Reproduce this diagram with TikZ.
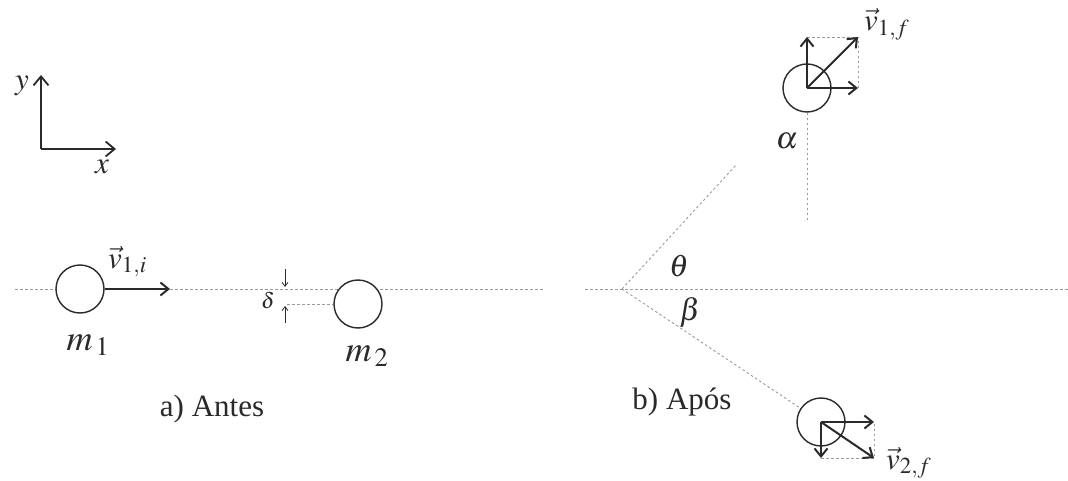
\documentclass[tikz,border=0pt]{standalone}
\usepackage{mathptmx}
\usepackage{fontspec}
\setmainfont{Liberation Serif}
\usetikzlibrary{arrows.meta,calc}
\definecolor{ink}{HTML}{2A2A2A}
\definecolor{dotc}{HTML}{9A9A9A}
\tikzset{
  ball/.style={circle, draw=ink, line width=1.4pt, minimum size=48pt, inner sep=0pt},
  vecarrow/.style={draw=ink, line width=2pt, -{Straight Barb[length=8pt,width=13pt]}},
  axisarrow/.style={draw=ink, line width=1.8pt, -{Straight Barb[length=9pt,width=15pt]}},
  guide/.style={draw=dotc, line width=0.9pt, dash pattern=on 2.5pt off 2.5pt},
  thinarrow/.style={draw=ink, line width=0.8pt, -{Straight Barb[length=4pt,width=6pt]}},
  lbl/.style={inner sep=0pt, text=ink},
  masslbl/.style={inner sep=0pt, text=ink, font=\fontsize{36}{40}\selectfont},
  captext/.style={inner sep=0pt, text=ink, font=\fontsize{31}{36}\selectfont},
}
\begin{document}
\begin{tikzpicture}[x=1pt,y=-1pt, font=\fontsize{31}{36}\selectfont]
\useasboundingbox (0,0) rectangle (1068,481);
% axes
\coordinate (O) at (41,149);
\coordinate (Ytip) at (41,75);
\coordinate (Xtip) at (116,149);
\draw[axisarrow] (O) -- (Ytip);
\draw[axisarrow] (O) -- (Xtip);
\node[lbl] (ylab) at (22,86) {$y$};
\node[lbl] (xlab) at (102,167) {$x$};

% ---- a) Antes ----
\coordinate (La) at (15,289);
\coordinate (Lb) at (545,289);
\draw[guide] (La) -- (Lb);
\node[ball, fill=white] (m1) at (80,289) {};
\coordinate (v1tip) at (170,289);
\draw[vecarrow] (m1.east) -- (v1tip);
\node[lbl, anchor=base west] (v1i) at (108,268) {$\vec{v}_{1,i}$};
\node[masslbl, anchor=base] (m1lab) at (88,350) {$m_{\,1}$};

\node[ball, fill=white] (m2) at (358,304) {};
\coordinate (d0) at (287,304);
\draw[guide] (d0) -- (m2.west);
\coordinate (da1) at (285,269);
\coordinate (da2) at (285,287);
\coordinate (db1) at (285,323);
\coordinate (db2) at (285,306);
\draw[thinarrow] (da1) -- (da2);
\draw[thinarrow] (db1) -- (db2);
\node[lbl, font=\fontsize{22}{26}\selectfont] (delta) at (268,300) {$\delta$};
\node[masslbl, anchor=base] (m2lab) at (367,361) {$m_{\,2}$};
\node[captext, anchor=base] (antes) at (212,416) {a) Antes};

% ---- b) Apos ----
\coordinate (Ra) at (585,289);
\coordinate (Rb) at (1068,289);
\draw[guide] (Ra) -- (Rb);
\coordinate (V) at (622,289);
\node[ball] (c1) at (807,88) {};
\node[ball] (c2) at (821,422) {};
\draw[guide] (V) -- ($(V)!0.62!(c1.center)$);
\draw[guide] (V) -- (c2);
\coordinate (c1s) at (807,220);
\draw[guide] (c1.south) -- (c1s);

% vectors on m1
\coordinate (c1up) at (807,37);
\coordinate (c1rt) at (858,88);
\coordinate (c1dg) at (858,37);
\draw[guide] (c1up) -- (c1dg) -- (c1rt);
\draw[vecarrow] (c1.center) -- (c1up);
\draw[vecarrow] (c1.center) -- (c1rt);
\draw[vecarrow] (c1.center) -- (c1dg);
\node[lbl, anchor=base west] (v1f) at (864,31) {$\vec{v}_{1,f}$};

% vectors on m2
\coordinate (c2dn) at (821,458);
\coordinate (c2rt) at (874,422);
\coordinate (c2dg) at (874,458);
\draw[guide] (c2dn) -- (c2dg) -- (c2rt);
\draw[vecarrow] (c2.center) -- (c2dn);
\draw[vecarrow] (c2.center) -- (c2rt);
\draw[vecarrow] (c2.center) -- (c2dg);
\node[lbl, anchor=base west] (v2f) at (886,469) {$\vec{v}_{2,f}$};

\node[lbl] (alpha) at (787,141) {$\alpha$};
\node[lbl] (theta) at (679,266) {$\theta$};
\node[lbl] (beta) at (690,312) {$\beta$};
\node[captext, anchor=base] (apos) at (682,409) {b) Após};
\end{tikzpicture}
\end{document}
